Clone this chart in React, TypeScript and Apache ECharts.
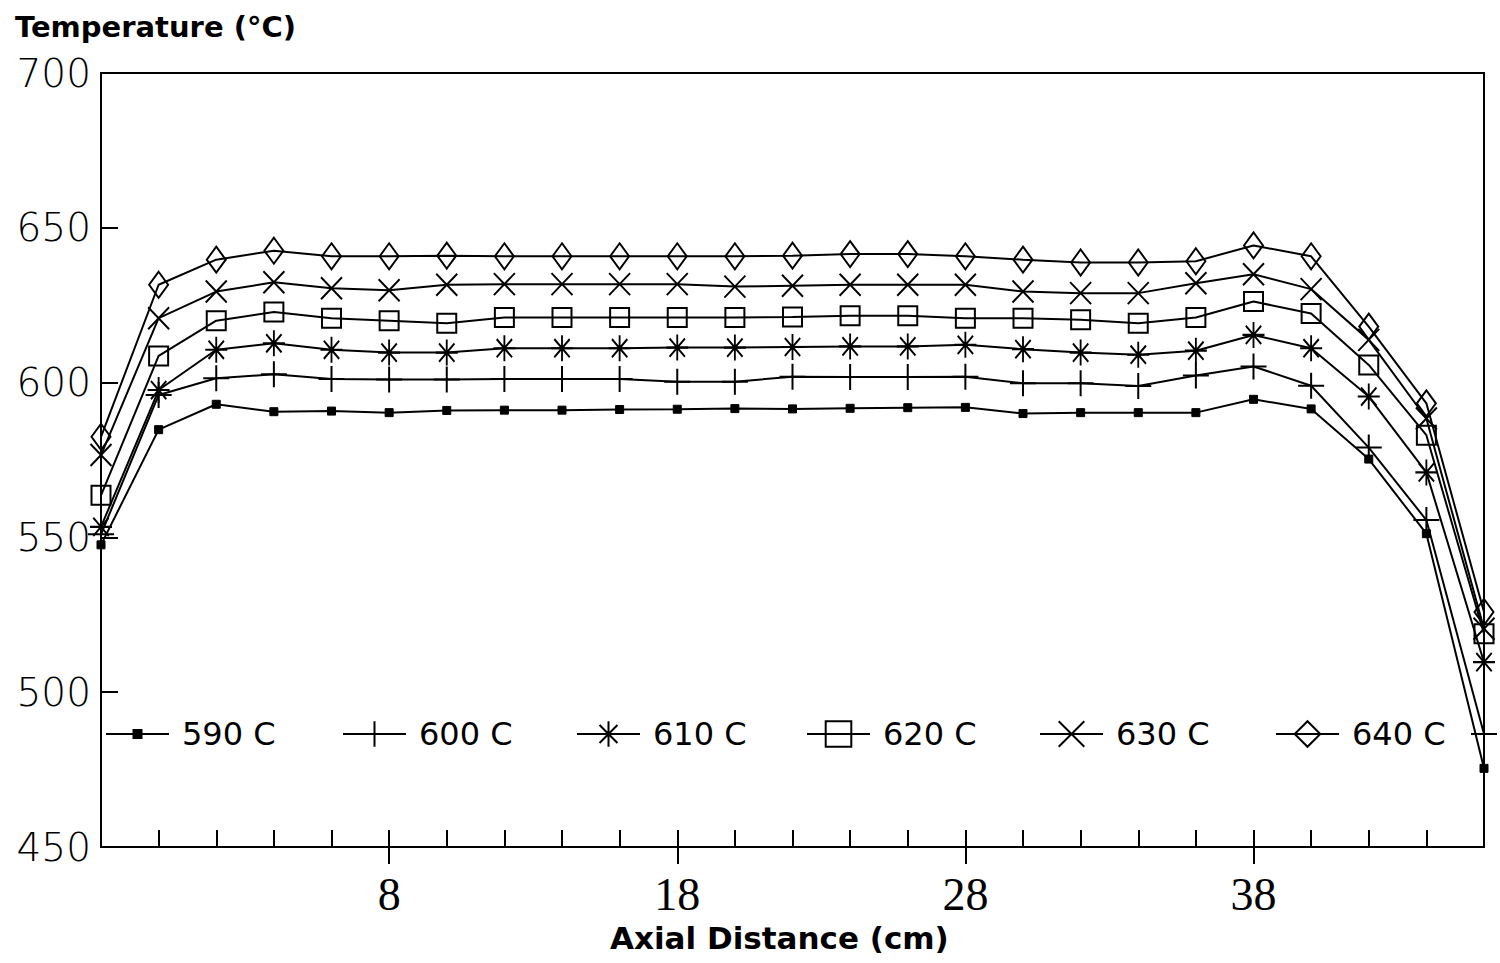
import React, { useEffect, useRef } from 'react';
import * as echarts from 'echarts';

const axialDistance = [-2, 0, 2, 4, 6, 8, 10, 12, 14, 16, 18, 20, 22, 24, 26, 28, 30, 32, 34, 36, 38, 40, 42, 44, 46];
const xTickValues = [0, 2, 4, 6, 8, 10, 12, 14, 16, 18, 20, 22, 24, 26, 28, 30, 32, 34, 36, 38, 40, 42, 44];
const xLabelValues = [8, 18, 28, 38];

const t590 = [547.6, 584.8, 593.0, 590.6, 590.8, 590.3, 591.0, 591.1, 591.1, 591.3, 591.4, 591.6, 591.5, 591.7, 591.9, 592.0, 590.0, 590.3, 590.3, 590.3, 594.6, 591.5, 575.3, 551.2, 475.4];
const t600 = [551.0, 596.0, 601.4, 602.7, 601.2, 601.0, 601.0, 601.2, 601.2, 601.2, 600.3, 600.3, 601.9, 601.8, 601.8, 601.9, 599.8, 599.8, 598.9, 602.3, 605.2, 599.0, 579.0, 555.6, 486.5];
const t610 = [553.4, 597.6, 610.6, 612.7, 610.6, 609.7, 609.7, 611.1, 611.1, 611.1, 611.3, 611.3, 611.5, 611.7, 611.7, 612.2, 610.8, 609.7, 609.0, 610.3, 615.4, 611.1, 595.5, 571.0, 509.7];
const t620 = [563.6, 608.6, 620.0, 622.8, 620.8, 620.0, 619.2, 621.0, 621.0, 621.0, 621.0, 621.0, 621.2, 621.6, 621.6, 620.8, 620.8, 620.3, 619.2, 621.0, 626.2, 622.3, 605.7, 583.0, 518.9];
const t630 = [576.6, 620.8, 629.4, 632.4, 630.5, 629.8, 631.6, 631.8, 631.8, 631.8, 631.8, 631.0, 631.3, 631.6, 631.6, 631.6, 629.4, 628.9, 628.9, 632.1, 635.0, 630.2, 613.8, 588.4, 520.5];
const t640 = [582.5, 631.6, 639.7, 642.6, 640.8, 640.8, 641.0, 640.8, 640.8, 640.8, 640.8, 640.8, 641.0, 641.5, 641.5, 640.8, 639.7, 638.8, 638.8, 639.2, 644.3, 640.8, 618.1, 593.3, 525.9];

const seriesNames = ['590 C', '600 C', '610 C', '620 C', '630 C', '640 C'];
const seriesValues = [t590, t600, t610, t620, t630, t640];
const yTickLabels = [450, 500, 550, 600, 650, 700];

const SYMBOLS = [
  'rect',
  'path://M10,0L10,20M0,10L20,10',
  'path://M10,0L10,20M0,10L20,10M3,3L17,17M17,3L3,17',
  'path://M0,0L20,0L20,20L0,20Z',
  'path://M0,0L20,20M20,0L0,20',
  'path://M10,0L20,14L10,28L0,14Z',
];
const SIZES: any[] = [8, 26, [22, 26], 19, [21, 22], [19, 26]];
const LEGEND_LEFT = [105, 342, 576, 806, 1039, 1275];

export default function App() {
  const ref = useRef<HTMLDivElement>(null);
  useEffect(() => {
    if (!ref.current) return;
    const chart = echarts.init(ref.current, null, { renderer: 'svg' });
    const series = seriesNames.map((name, k) => ({
      name,
      type: 'line',
      data: axialDistance.map((x, i) => [x, seriesValues[k][i]]),
      symbol: SYMBOLS[k],
      symbolSize: SIZES[k],
      symbolKeepAspect: false,
      showAllSymbol: true,
      lineStyle: { color: '#000', width: 2 },
      itemStyle: k === 0
        ? { color: '#000', borderColor: '#000', borderWidth: 1 }
        : { color: 'rgba(0,0,0,0)', borderColor: '#000', borderWidth: 2 },
      emphasis: { disabled: true },
      z: 2,
    }));
    const legends = seriesNames.map((name, k) => ({
      data: [name],
      left: LEGEND_LEFT[k],
      top: 718,
      padding: 0,
      orient: 'horizontal',
      selectedMode: false,
      itemWidth: 63,
      itemHeight: k === 0 ? 10 : 32,
      textStyle: {
        fontFamily: 'DejaVu Sans',
        fontSize: 32,
        color: '#000',
        padding: [0, 0, 0, 8],
      },
    }));
    chart.setOption({
      animation: false,
      backgroundColor: '#fff',
      title: [
        {
          text: 'Temperature (°C)',
          left: 15,
          top: 12,
          padding: 0,
          textStyle: { fontFamily: 'DejaVu Sans', fontWeight: 'bold', fontSize: 29, color: '#000' },
        },
        {
          text: 'Axial Distance (cm)',
          left: 610,
          top: 922,
          padding: 0,
          textStyle: { fontFamily: 'DejaVu Sans', fontWeight: 'bold', fontSize: 31, color: '#000' },
        },
      ],
      legend: legends,
      grid: {
        left: 101,
        right: 16,
        top: 73,
        bottom: 116,
        show: true,
        borderColor: '#000',
        borderWidth: 2,
        backgroundColor: 'transparent',
      },
      xAxis: [
        {
          type: 'value',
          min: -2,
          max: 46,
          interval: 2,
          axisLine: { show: true, onZero: false, lineStyle: { color: '#000', width: 2 } },
          axisTick: { show: true, inside: true, length: 17, customValues: xTickValues, lineStyle: { color: '#000', width: 2 } },
          axisLabel: { show: false },
          splitLine: { show: false },
        },
        {
          type: 'value',
          min: -2,
          max: 46,
          interval: 2,
          position: 'bottom',
          axisLine: { show: false, onZero: false },
          axisTick: { show: true, inside: false, length: 17, customValues: xLabelValues, lineStyle: { color: '#000', width: 2 } },
          axisLabel: {
            show: true,
            customValues: xLabelValues,
            margin: 24,
            fontFamily: 'Liberation Serif',
            fontWeight: 'lighter',
            fontSize: 46,
            color: '#000',
          },
          splitLine: { show: false },
        },
      ],
      yAxis: {
        type: 'value',
        min: 450,
        max: 700,
        interval: 50,
        axisLine: { show: true, onZero: false, lineStyle: { color: '#000', width: 2 } },
        axisTick: { show: true, inside: true, length: 17, customValues: yTickLabels, lineStyle: { color: '#000', width: 2 } },
        axisLabel: {
          show: true,
          customValues: yTickLabels,
          margin: 10,
          fontFamily: 'DejaVu Sans',
          fontWeight: 'lighter',
          fontSize: 39,
          color: '#000',
        },
        splitLine: { show: false },
      },
      series,
    });
    return () => chart.dispose();
  }, []);
  return (
    <div
      ref={ref}
      style={{ position: 'fixed', left: 0, top: 0, width: 1500, height: 963, background: '#fff' }}
    />
  );
}
